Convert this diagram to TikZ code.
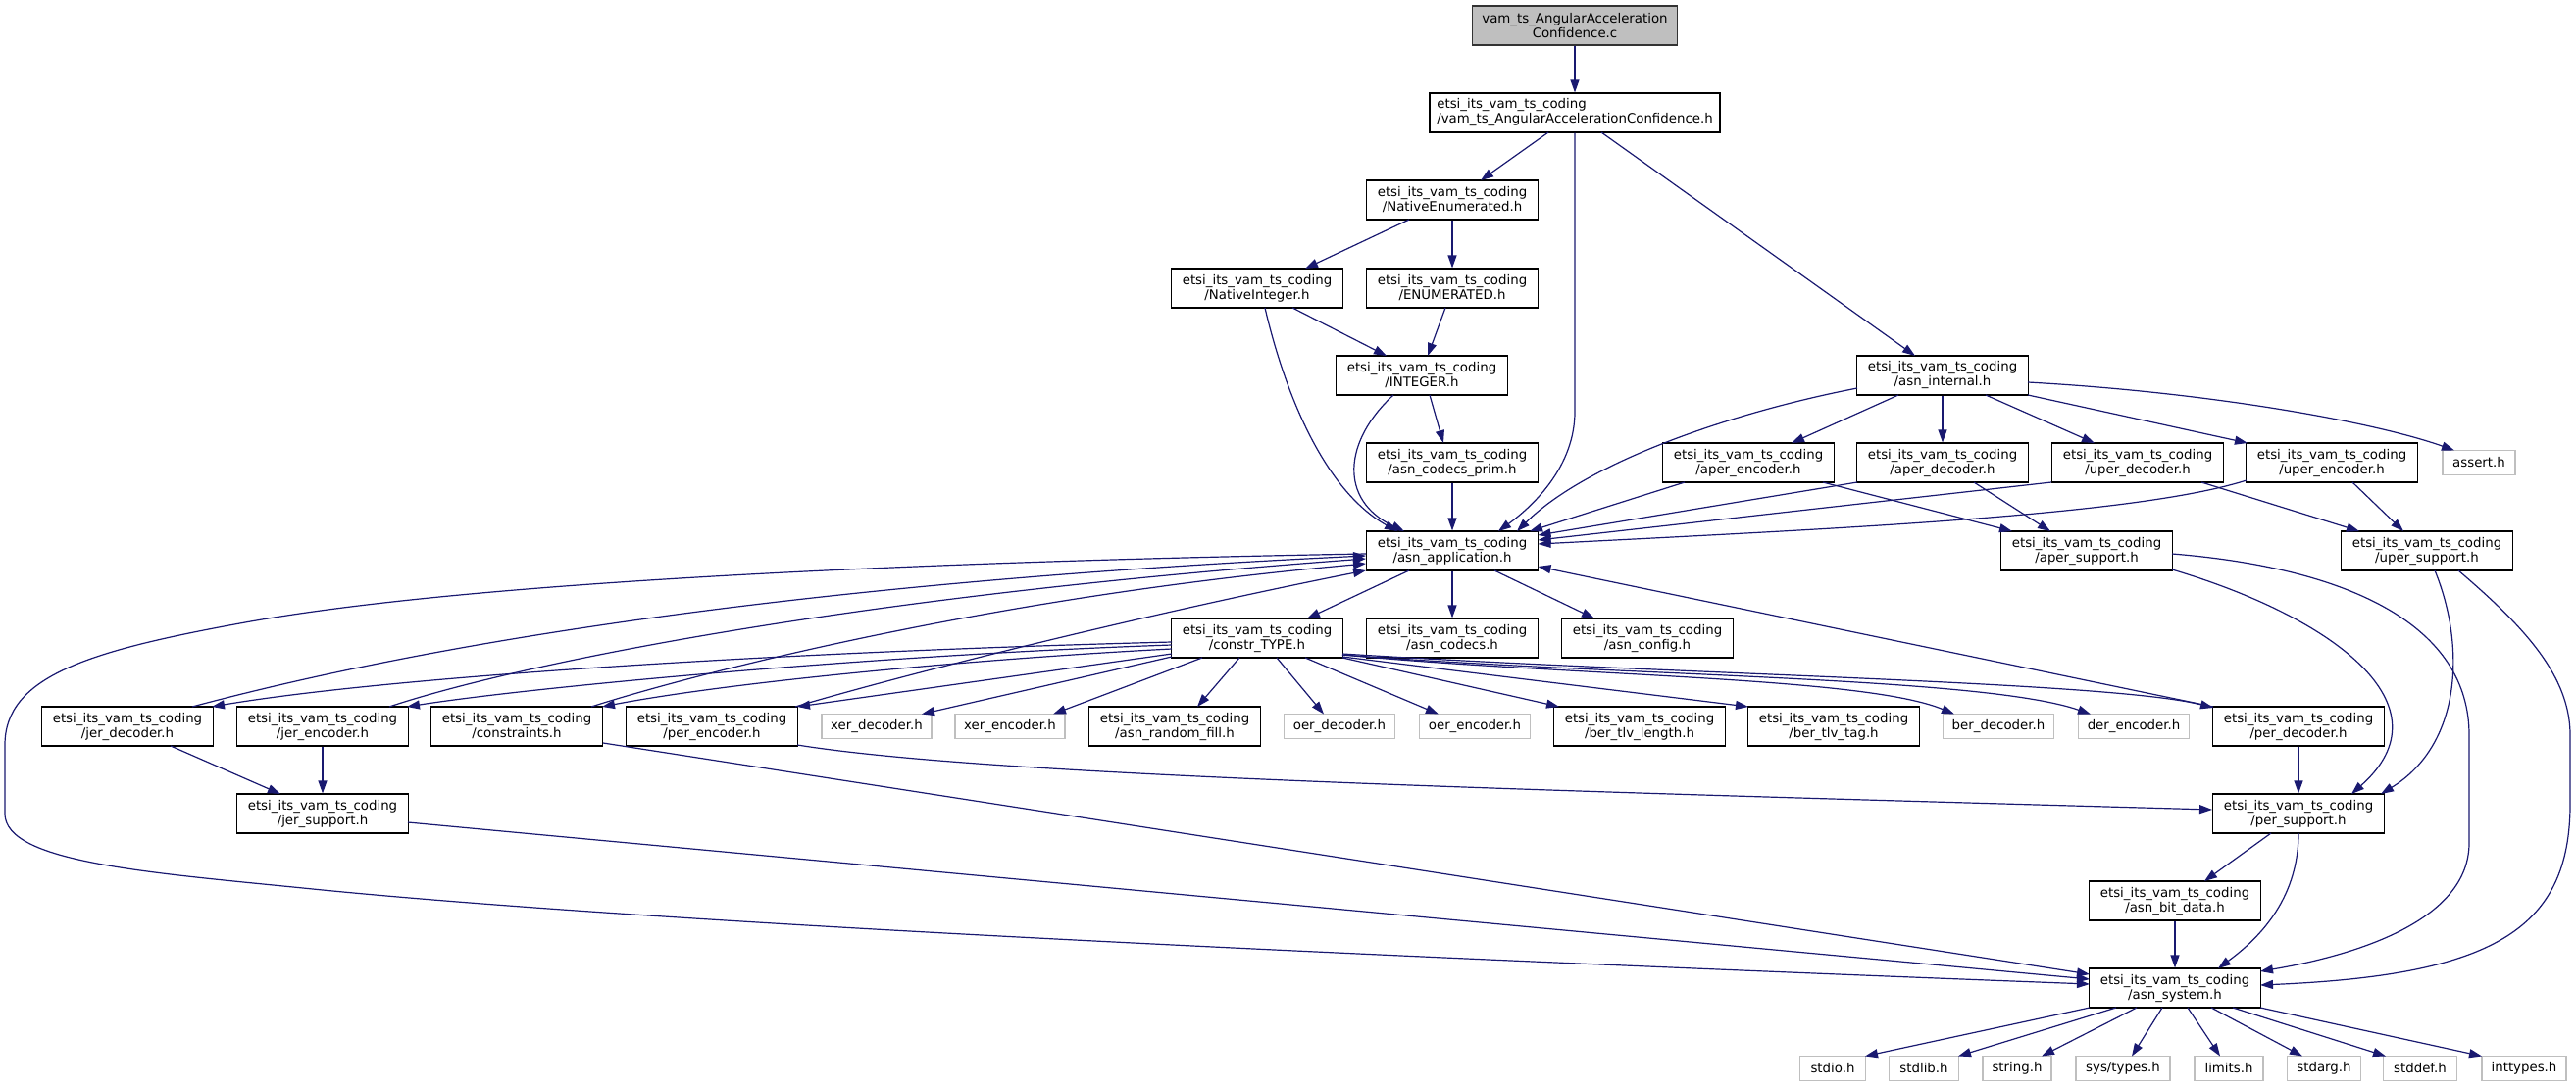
\documentclass[tikz,border=0pt]{standalone}
\usepackage{fontspec}
\setmainfont{DejaVu Sans}
\usetikzlibrary{arrows.meta,calc}
\definecolor{edgec}{HTML}{191970}
\definecolor{greyext}{HTML}{BFBFBF}
\definecolor{rootfill}{HTML}{BFBFBF}
\begin{document}
\begin{tikzpicture}[x=1pt,y=-1pt,
  box/.style={draw=black, line width=1.1pt, fill=white, inner sep=0pt,
    minimum height=40pt, minimum width=175pt, align=center,
    font=\fontsize{13.33pt}{15pt}\selectfont},
  ext/.style={box, draw=greyext, minimum height=25pt},
  rootbox/.style={box, fill=rootfill, draw=black!80},
  edge/.style={draw=edgec, line width=1.2pt, -{Triangle[length=13pt,width=9pt]}}]
\path[use as bounding box] (0,0) rectangle (2627,1109);

% nodes
\node[rootbox, minimum width=209pt] (root) at (1606,26) {vam\_ts\_AngularAcceleration\\Confidence.c};
\node[box, minimum width=296pt, align=left] (vamh) at (1606,115) {etsi\_its\_vam\_ts\_coding\\/vam\_ts\_AngularAccelerationConfidence.h};
\node[box] (natenum) at (1481,204) {etsi\_its\_vam\_ts\_coding\\/NativeEnumerated.h};
\node[box] (natint) at (1282,294) {etsi\_its\_vam\_ts\_coding\\/NativeInteger.h};
\node[box] (enumh) at (1481,294) {etsi\_its\_vam\_ts\_coding\\/ENUMERATED.h};
\node[box] (integer) at (1450,383) {etsi\_its\_vam\_ts\_coding\\/INTEGER.h};
\node[box] (asninternal) at (1981,383) {etsi\_its\_vam\_ts\_coding\\/asn\_internal.h};
\node[box] (codecsprim) at (1481,472) {etsi\_its\_vam\_ts\_coding\\/asn\_codecs\_prim.h};
\node[box] (aperenc) at (1783,472) {etsi\_its\_vam\_ts\_coding\\/aper\_encoder.h};
\node[box] (aperdec) at (1981,472) {etsi\_its\_vam\_ts\_coding\\/aper\_decoder.h};
\node[box] (uperdec) at (2180,472) {etsi\_its\_vam\_ts\_coding\\/uper\_decoder.h};
\node[box] (uperenc) at (2378,472) {etsi\_its\_vam\_ts\_coding\\/uper\_encoder.h};
\node[ext, minimum width=74pt] (assert) at (2528,472) {assert.h};
\node[box] (asnapp) at (1481,562) {etsi\_its\_vam\_ts\_coding\\/asn\_application.h};
\node[box] (apersup) at (2128,562) {etsi\_its\_vam\_ts\_coding\\/aper\_support.h};
\node[box] (upersup) at (2475,562) {etsi\_its\_vam\_ts\_coding\\/uper\_support.h};
\node[box] (constr) at (1282,651) {etsi\_its\_vam\_ts\_coding\\/constr\_TYPE.h};
\node[box] (asncodecs) at (1481,651) {etsi\_its\_vam\_ts\_coding\\/asn\_codecs.h};
\node[box] (asnconfig) at (1680,651) {etsi\_its\_vam\_ts\_coding\\/asn\_config.h};
\node[box] (jerdec) at (130,741) {etsi\_its\_vam\_ts\_coding\\/jer\_decoder.h};
\node[box] (jerenc) at (329,741) {etsi\_its\_vam\_ts\_coding\\/jer\_encoder.h};
\node[box] (constraints) at (527,741) {etsi\_its\_vam\_ts\_coding\\/constraints.h};
\node[box] (perenc) at (726,741) {etsi\_its\_vam\_ts\_coding\\/per\_encoder.h};
\node[ext, minimum width=112pt] (xerdec) at (894,741) {xer\_decoder.h};
\node[ext, minimum width=112pt] (xerenc) at (1030,741) {xer\_encoder.h};
\node[box] (randfill) at (1198,741) {etsi\_its\_vam\_ts\_coding\\/asn\_random\_fill.h};
\node[ext, minimum width=113pt] (oerdec) at (1366,741) {oer\_decoder.h};
\node[ext, minimum width=113pt] (oerenc) at (1504,741) {oer\_encoder.h};
\node[box] (tlvlen) at (1672,741) {etsi\_its\_vam\_ts\_coding\\/ber\_tlv\_length.h};
\node[box] (tlvtag) at (1870,741) {etsi\_its\_vam\_ts\_coding\\/ber\_tlv\_tag.h};
\node[ext, minimum width=113pt] (berdec) at (2038,741) {ber\_decoder.h};
\node[ext, minimum width=113pt] (derenc) at (2176,741) {der\_encoder.h};
\node[box] (perdec) at (2344,741) {etsi\_its\_vam\_ts\_coding\\/per\_decoder.h};
\node[box] (jersup) at (329,830) {etsi\_its\_vam\_ts\_coding\\/jer\_support.h};
\node[box] (persup) at (2344,830) {etsi\_its\_vam\_ts\_coding\\/per\_support.h};
\node[box] (bitdata) at (2218,919) {etsi\_its\_vam\_ts\_coding\\/asn\_bit\_data.h};
\node[box] (asnsys) at (2218,1008) {etsi\_its\_vam\_ts\_coding\\/asn\_system.h};
\node[ext, minimum width=67pt] (stdio) at (1869,1090) {stdio.h};
\node[ext, minimum width=71pt] (stdlib) at (1962,1090) {stdlib.h};
\node[ext, minimum width=70pt] (string) at (2057,1090) {string.h};
\node[ext, minimum width=96pt] (systypes) at (2165,1090) {sys/types.h};
\node[ext, minimum width=70pt] (limits) at (2273,1090) {limits.h};
\node[ext, minimum width=75pt] (stdarg) at (2370,1090) {stdarg.h};
\node[ext, minimum width=75pt] (stddef) at (2468,1090) {stddef.h};
\node[ext, minimum width=86pt] (inttypes) at (2574,1090) {inttypes.h};

% edges
\draw[edge] (root.south) -- (vamh.north);
\draw[edge] ($(vamh.center)+(-27,20)$) -- ($(natenum.center)+(29,-20)$);
\draw[edge] (vamh.south) -- ($(vamh.center)+(0,305)$) .. controls ($(vamh.center)+(0,360)$) and ($(asnapp.center)+(84,-47)$) .. ($(asnapp.center)+(47,-20)$);
\draw[edge] ($(vamh.center)+(27,20)$) -- ($(asninternal.center)+(-28,-20)$);
\draw[edge] ($(natenum.center)+(-44,20)$) -- ($(natint.center)+(49,-20)$);
\draw[edge] (natenum.south) -- (enumh.north);
\draw[edge] ($(natint.center)+(36,20)$) -- ($(integer.center)+(-36,-20)$);
\draw[edge] ($(enumh.center)+(-7,20)$) -- ($(integer.center)+(6,-20)$);
\draw[edge] ($(natint.center)+(8,20)$) .. controls (1310,400) and (1350,500) .. ($(asnapp.center)+(-56,-20)$);
\draw[edge] ($(integer.center)+(8,20)$) -- ($(codecsprim.center)+(-9,-20)$);
\draw[edge] ($(integer.center)+(-29,20)$) .. controls (1370,450) and (1365,510) .. ($(asnapp.center)+(-49,-20)$);
\draw[edge] (codecsprim.south) -- (asnapp.north);
\draw[edge] ($(asninternal.center)+(-87,13)$) .. controls (1770,420) and (1620,470) .. ($(asnapp.center)+(66,-20)$);
\draw[edge] ($(asninternal.center)+(-45,20)$) -- ($(aperenc.center)+(44,-20)$);
\draw[edge] (asninternal.south) -- (aperdec.north);
\draw[edge] ($(asninternal.center)+(44,20)$) -- ($(uperdec.center)+(-44,-20)$);
\draw[edge] ($(asninternal.center)+(87,20)$) -- ($(uperenc.center)+(-86,-20)$);
\draw[edge] ($(asninternal.center)+(87,7)$) .. controls (2250,400) and (2420,430) .. ($(assert.center)+(-25,-12.5)$);
\draw[edge] ($(aperenc.center)+(-65,20)$) -- ($(asnapp.center)+(79,-20)$);
\draw[edge] ($(aperdec.center)+(-87,20)$) -- ($(asnapp.center)+(87.5,-16)$);
\draw[edge] ($(uperdec.center)+(-88,20)$) -- ($(asnapp.center)+(87.5,-11)$);
\draw[edge] ($(uperenc.center)+(-87,18)$) .. controls (2180,525) and (1900,538) .. ($(asnapp.center)+(87.5,-7)$);
\draw[edge] ($(aperenc.center)+(76,20)$) -- ($(apersup.center)+(-76,-20)$);
\draw[edge] ($(aperdec.center)+(32,20)$) -- ($(apersup.center)+(-37,-20)$);
\draw[edge] ($(uperdec.center)+(65,20)$) -- ($(upersup.center)+(-69,-20)$);
\draw[edge] ($(uperenc.center)+(21,20)$) -- ($(upersup.center)+(-24,-20)$);
\draw[edge] ($(asnapp.center)+(-44,20)$) -- ($(constr.center)+(51,-20)$);
\draw[edge] (asnapp.south) -- (asncodecs.north);
\draw[edge] ($(asnapp.center)+(43,20)$) -- ($(asnconfig.center)+(-54,-20)$);
\draw[edge] ($(asnapp.center)+(-88,3)$) .. controls (1000,572) and (500,590) .. (250,635) .. controls (90,664) and (5,690) .. (5,760) -- (5,830) .. controls (5,880) and (150,890) .. (319,907) .. controls (700,945) and (1500,980) .. ($(asnsys.center)+(-87,-4)$);
\draw[edge] ($(jerdec.center)+(66,-20)$) .. controls (350,680) and (700,600) .. ($(asnapp.center)+(-88,5)$);
\draw[edge] ($(jerenc.center)+(68,-20)$) .. controls (520,680) and (850,610) .. ($(asnapp.center)+(-88,8)$);
\draw[edge] ($(constraints.center)+(76,-20)$) .. controls (700,690) and (1000,610) .. ($(asnapp.center)+(-88,13)$);
\draw[edge] ($(perenc.center)+(85,-20)$) .. controls (950,680) and (1200,620) .. ($(asnapp.center)+(-88,20)$);
% constr_TYPE children
\draw[edge] ($(constr.center)+(-87,4)$) .. controls (800,665) and (400,690) .. ($(jerdec.center)+(86,-20)$);
\draw[edge] ($(constr.center)+(-87,7)$) .. controls (900,668) and (550,700) .. ($(jerenc.center)+(86,-20)$);
\draw[edge] ($(constr.center)+(-87,11)$) .. controls (1000,672) and (750,695) .. ($(constraints.center)+(87,-20)$);
\draw[edge] ($(constr.center)+(-87,16)$) -- ($(perenc.center)+(87,-20)$);
\draw[edge] ($(constr.center)+(-87,19)$) -- ($(xerdec.center)+(46,-12.5)$);
\draw[edge] ($(constr.center)+(-56,20)$) -- ($(xerenc.center)+(44,-12.5)$);
\draw[edge] ($(constr.center)+(-18,20)$) -- ($(randfill.center)+(23,-20)$);
\draw[edge] ($(constr.center)+(20,20)$) -- ($(oerdec.center)+(-16,-12.5)$);
\draw[edge] ($(constr.center)+(49,20)$) -- ($(oerenc.center)+(-37,-12.5)$);
\draw[edge] ($(constr.center)+(87,20)$) -- ($(tlvlen.center)+(-82,-20)$);
\draw[edge] ($(constr.center)+(87,19)$) -- ($(tlvtag.center)+(-87,-20)$);
\draw[edge] ($(constr.center)+(87,17)$) .. controls (1600,690) and (1900,690) .. ($(berdec.center)+(-45,-12.5)$);
\draw[edge] ($(constr.center)+(87,17)$) .. controls (1650,690) and (2020,690) .. ($(derenc.center)+(-44,-12.5)$);
\draw[edge] ($(constr.center)+(87,16)$) .. controls (1700,688) and (2150,695) .. ($(perdec.center)+(-87,-19)$);
% per / support
\draw[edge] ($(perdec.center)+(-87,-20)$) -- ($(asnapp.center)+(87.5,16)$);
\draw[edge] (perdec.south) -- (persup.north);
\draw[edge] ($(perenc.center)+(87,19)$) .. controls (1000,790) and (1500,805) .. ($(persup.center)+(-88,-4)$);
\draw[edge] ($(apersup.center)+(87,19)$) .. controls (2380,630) and (2500,720) .. ($(persup.center)+(54,-20)$);
\draw[edge] ($(apersup.center)+(87,3)$) .. controls (2400,580) and (2518,640) .. (2518,750) -- (2518,860) .. controls (2518,940) and (2400,975) .. ($(asnsys.center)+(87,-17)$);
\draw[edge] ($(upersup.center)+(8,20)$) .. controls (2515,660) and (2510,760) .. ($(persup.center)+(84,-20)$);
\draw[edge] ($(upersup.center)+(32,20)$) .. controls (2575,640) and (2621,690) .. (2621,750) -- (2621,820) .. controls (2621,950) and (2540,995) .. ($(asnsys.center)+(87,-3)$);
\draw[edge] ($(persup.center)+(-28,20)$) -- ($(bitdata.center)+(30,-20)$);
\draw[edge] ($(persup.center)+(0,20)$) .. controls (2344,920) and (2300,960) .. ($(asnsys.center)+(44,-20)$);
\draw[edge] (bitdata.south) -- (asnsys.north);
\draw[edge] ($(constraints.center)+(88,17)$) -- ($(asnsys.center)+(-87,-14)$);
\draw[edge] ($(jersup.center)+(87,9)$) -- ($(asnsys.center)+(-87,-9)$);
\draw[edge] ($(jerdec.center)+(44,20)$) -- ($(jersup.center)+(-43,-20)$);
\draw[edge] (jerenc.south) -- (jersup.north);
% asn_system leaves
\draw[edge] ($(asnsys.center)+(-87,20)$) -- ($(stdio.center)+(33,-12.5)$);
\draw[edge] ($(asnsys.center)+(-60,20)$) -- ($(stdlib.center)+(35,-12.5)$);
\draw[edge] ($(asnsys.center)+(-39,20)$) -- ($(string.center)+(25,-12.5)$);
\draw[edge] ($(asnsys.center)+(-13,20)$) -- ($(systypes.center)+(9,-12.5)$);
\draw[edge] ($(asnsys.center)+(13,20)$) -- ($(limits.center)+(-9,-12.5)$);
\draw[edge] ($(asnsys.center)+(37,20)$) -- ($(stdarg.center)+(-22,-12.5)$);
\draw[edge] ($(asnsys.center)+(59,20)$) -- ($(stddef.center)+(-35,-12.5)$);
\draw[edge] ($(asnsys.center)+(87,20)$) -- ($(inttypes.center)+(-43,-12.5)$);
\end{tikzpicture}
\end{document}
